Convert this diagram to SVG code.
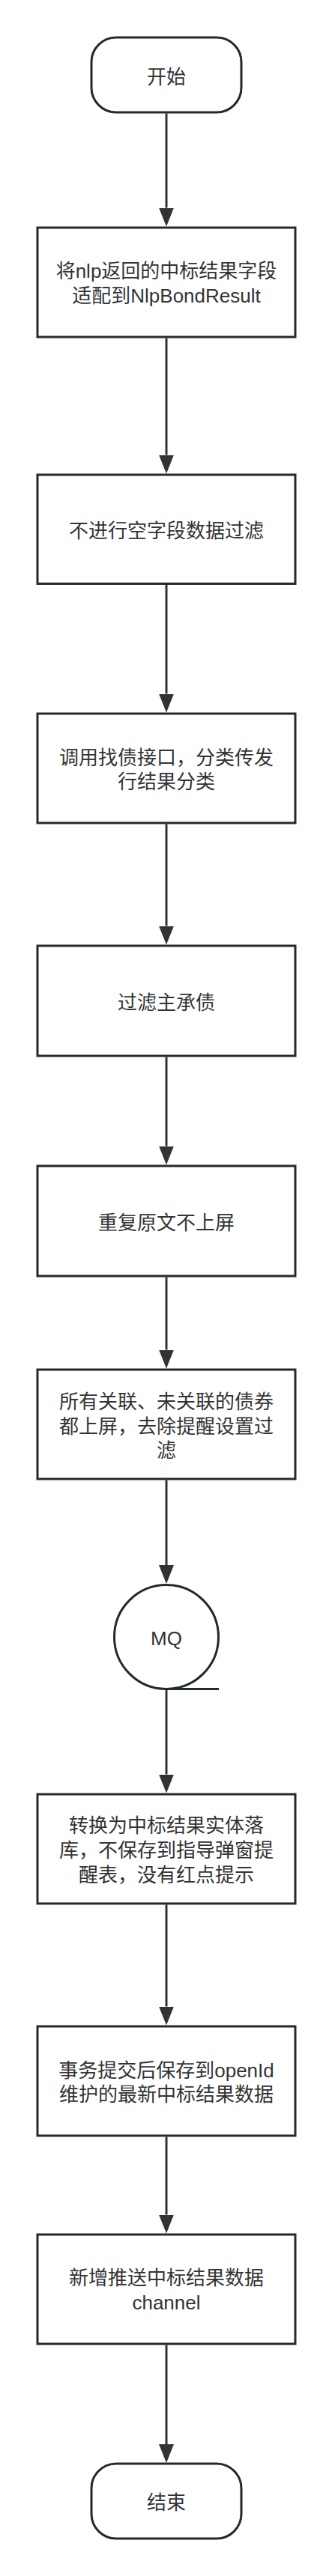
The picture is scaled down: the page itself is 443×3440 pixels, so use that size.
<svg xmlns="http://www.w3.org/2000/svg" width="443" height="3440" viewBox="0 0 443 3440">
<style>
.n{fill:#ffffff;stroke:#222a31;stroke-width:3}
.t{font-family:"Liberation Sans","Noto Sans CJK SC",sans-serif;font-size:26px;fill:#333333;text-anchor:middle;dominant-baseline:central}
.e{fill:none;stroke:#333333;stroke-width:3}
</style>
<defs>
<marker id="arr" markerUnits="userSpaceOnUse" markerWidth="25" markerHeight="20" viewBox="0 0 25 20" refX="0" refY="10" orient="auto">
<path d="M0,0 L25,10 L0,20 Z" fill="#333333"/>
</marker>
</defs>
<rect width="443" height="3440" fill="#ffffff"/>
<g id="connectors">
<path class="e" d="M222,151.5 V277.5" marker-end="url(#arr)"/>
<path class="e" d="M222,451.5 V607.5" marker-end="url(#arr)"/>
<path class="e" d="M222,780.5 V926.5" marker-end="url(#arr)"/>
<path class="e" d="M222,1100.5 V1236.5" marker-end="url(#arr)"/>
<path class="e" d="M222,1411.5 V1530.5" marker-end="url(#arr)"/>
<path class="e" d="M222,1705.5 V1802.5" marker-end="url(#arr)"/>
<path class="e" d="M222,1976.5 V2090" marker-end="url(#arr)"/>
<path class="e" d="M222,2256 V2369.5" marker-end="url(#arr)"/>
<path class="e" d="M222,2543.5 V2679.5" marker-end="url(#arr)"/>
<path class="e" d="M222,2853.5 V2957.5" marker-end="url(#arr)"/>
<path class="e" d="M222,3131.5 V3264" marker-end="url(#arr)"/>
</g>
<g id="start">
<rect class="n" x="122" y="50" width="200" height="100" rx="33" ry="33"/>
<text class="t" x="222" y="102.5">开始</text>
</g>
<g id="step1">
<rect class="n" x="50" y="304" width="344" height="146"/>
<text class="t" x="222" y="362">将nlp返回的中标结果字段</text>
<text class="t" x="222" y="395">适配到NlpBondResult</text>
</g>
<g id="step2">
<rect class="n" x="50" y="634" width="344" height="145.5"/>
<text class="t" x="222" y="709">不进行空字段数据过滤</text>
</g>
<g id="step3">
<rect class="n" x="50" y="953" width="344" height="146"/>
<text class="t" x="222" y="1012">调用找债接口，分类传发</text>
<text class="t" x="222" y="1044">行结果分类</text>
</g>
<g id="step4">
<rect class="n" x="50" y="1263" width="344" height="147"/>
<text class="t" x="222" y="1339">过滤主承债</text>
</g>
<g id="step5">
<rect class="n" x="50" y="1557" width="344" height="147"/>
<text class="t" x="222" y="1633">重复原文不上屏</text>
</g>
<g id="step6">
<rect class="n" x="50" y="1829" width="344" height="146"/>
<text class="t" x="222" y="1872">所有关联、未关联的债券</text>
<text class="t" x="222" y="1904.5">都上屏，去除提醒设置过</text>
<text class="t" x="222" y="1937">滤</text>
</g>
<g id="mq">
<circle class="n" cx="222" cy="2186" r="69.5"/>
<path class="n" d="M222,2255.5 H292" fill="none"/>
<text class="t" x="222" y="2188">MQ</text>
</g>
<g id="step7">
<rect class="n" x="50" y="2396" width="344" height="146"/>
<text class="t" x="222" y="2438">转换为中标结果实体落</text>
<text class="t" x="222" y="2471">库，不保存到指导弹窗提</text>
<text class="t" x="222" y="2503.5">醒表，没有红点提示</text>
</g>
<g id="step8">
<rect class="n" x="50" y="2706" width="344" height="146"/>
<text class="t" x="222" y="2764.5">事务提交后保存到openId</text>
<text class="t" x="222" y="2796.5">维护的最新中标结果数据</text>
</g>
<g id="step9">
<rect class="n" x="50" y="2984" width="344" height="146"/>
<text class="t" x="222" y="3042">新增推送中标结果数据</text>
<text class="t" x="222" y="3075">channel</text>
</g>
<g id="end">
<rect class="n" x="122" y="3290" width="200" height="100" rx="33" ry="33"/>
<text class="t" x="222" y="3341.5">结束</text>
</g>
</svg>
